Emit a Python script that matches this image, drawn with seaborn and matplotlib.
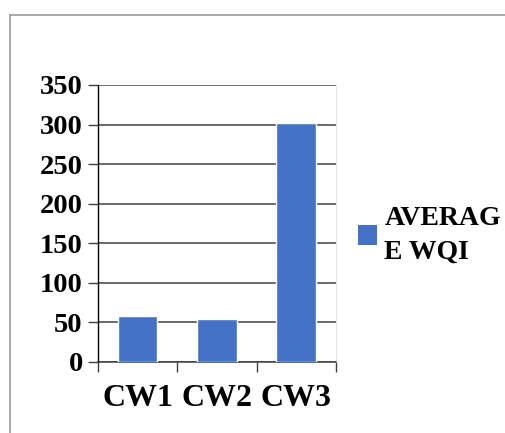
import matplotlib
matplotlib.use("Agg")
import matplotlib.pyplot as plt
from matplotlib.lines import Line2D
from matplotlib.patches import Patch
import seaborn as sns
import pandas as pd

# Average water quality index per station
stations = ["CW1", "CW2", "CW3"]
avg_wqi = [58, 54, 302]
y_ticks = [0, 50, 100, 150, 200, 250, 300, 350]
series_label = "AVERAG\nE WQI"

sns.set_theme(style="white")
plt.rcParams["font.family"] = ["Liberation Serif", "DejaVu Serif"]
plt.rcParams["font.weight"] = "bold"
plt.rcParams["text.color"] = "black"
plt.rcParams["xtick.labelcolor"] = "black"
plt.rcParams["ytick.labelcolor"] = "black"

df = pd.DataFrame({"station": stations, "wqi": avg_wqi})

fig = plt.figure(figsize=(5.06, 4.33), dpi=100)
ax = fig.add_axes([98 / 506, 1 - 361.7 / 433, (336 - 98) / 506, (361.7 - 85) / 433])

ax.set_axisbelow(True)
ax.yaxis.grid(True, color="#404040", linewidth=1.1)
ax.xaxis.grid(False)

sns.barplot(data=df, x="station", y="wqi", color="#4472C4", width=0.5,
            saturation=1, ax=ax, zorder=3)

ax.set_ylim(0, 350)
ax.set_xlim(-0.5, 2.5)
ax.set_yticks(y_ticks)
ax.set_yticklabels([str(v) for v in y_ticks], fontsize=20.5, fontweight="bold")
ax.set_xticks([-0.5, 0.5, 1.5, 2.5], minor=False)
ax.set_xticklabels([])
ax.set_xticks([0, 1, 2], minor=True)
ax.set_xticklabels(stations, minor=True, fontsize=23, fontweight="bold")
ax.set_xlabel("")
ax.set_ylabel("")

ax.tick_params(axis="y", which="major", direction="out", length=7, width=1.0,
               color="#404040", left=True, pad=4)
ax.tick_params(axis="x", which="major", direction="out", length=7, width=1.0,
               color="#404040", bottom=True)
ax.tick_params(axis="x", which="minor", length=0, pad=16, bottom=True)

ax.spines["top"].set_visible(False)
ax.spines["right"].set_color("#e6e6e6")
ax.spines["right"].set_linewidth(0.8)
ax.spines["left"].set_color("black")
ax.spines["left"].set_linewidth(1.0)
ax.spines["bottom"].set_color("#404040")
ax.spines["bottom"].set_linewidth(1.1)

handle = Patch(facecolor="#4472C4", edgecolor="none")
leg = fig.legend([handle], [series_label], loc="center left",
                 bbox_to_anchor=(358 / 506, 1 - 235 / 433), frameon=False,
                 prop={"family": "Liberation Serif", "weight": "bold", "size": 20},
                 handlelength=0.7, handleheight=0.7, handletextpad=0.25,
                 borderpad=0, borderaxespad=0, labelspacing=0.2)
for t in leg.get_texts():
    t.set_linespacing(1.45)

# Outer chart frame (top and left edges)
fig.add_artist(Line2D([10 / 506, 1.0], [1 - 15 / 433, 1 - 15 / 433],
                      transform=fig.transFigure, color="#9a9a9a", linewidth=1.2))
fig.add_artist(Line2D([10 / 506, 10 / 506], [0.0, 1 - 15 / 433],
                      transform=fig.transFigure, color="#9a9a9a", linewidth=1.2))

fig.savefig("out.png", dpi=100)
